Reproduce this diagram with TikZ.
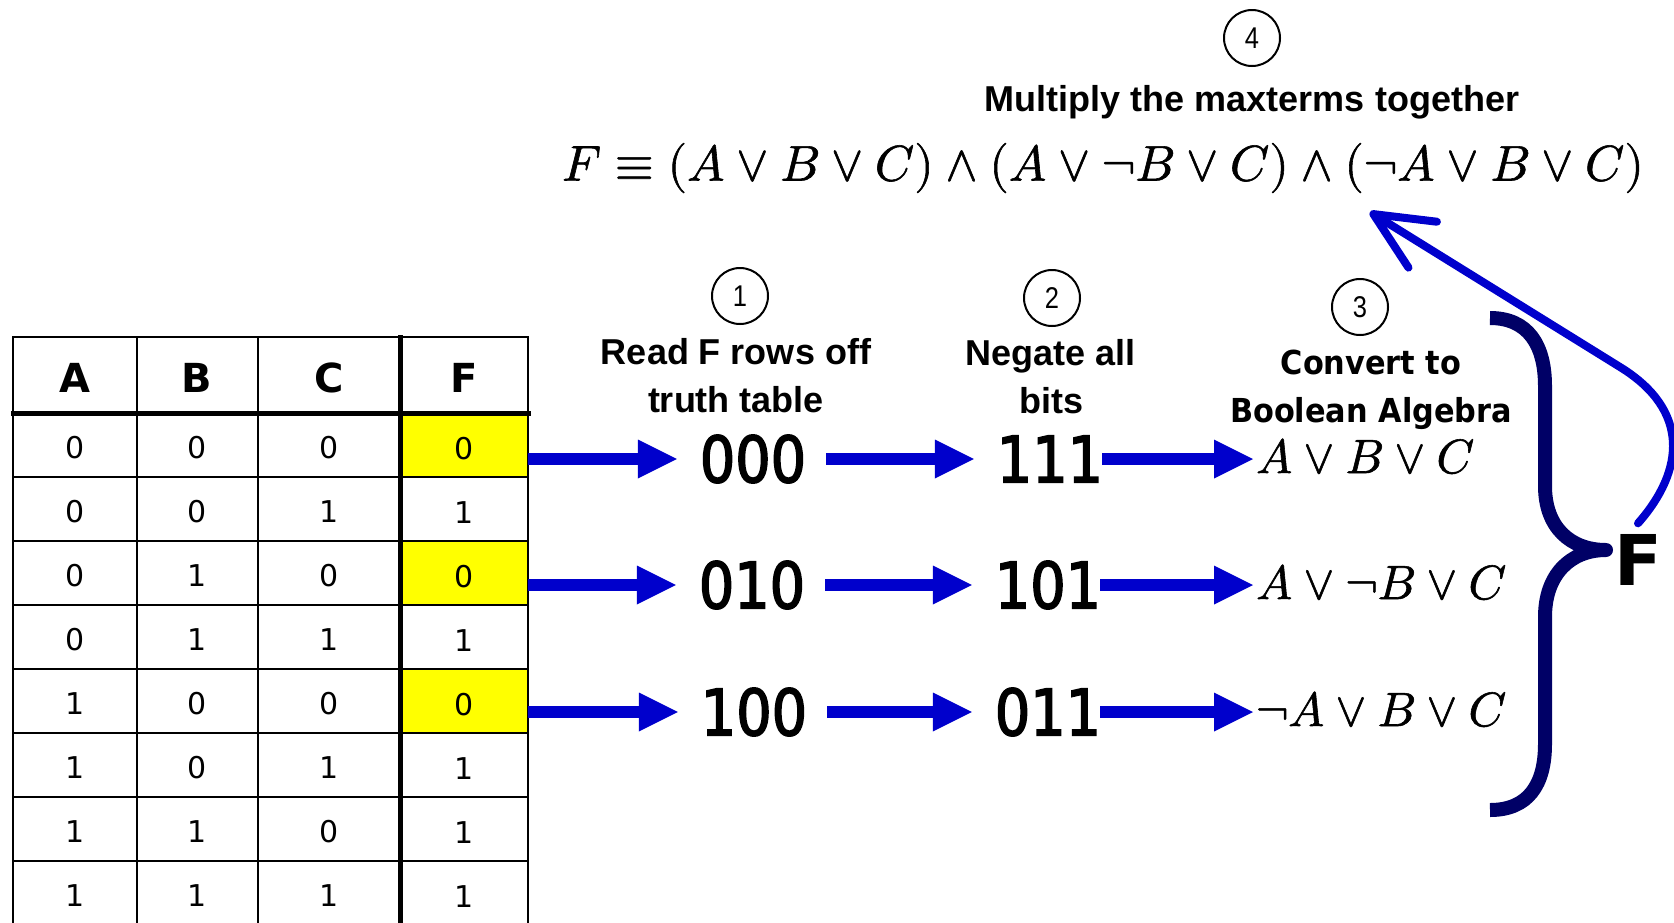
\documentclass[tikz,border=0pt]{standalone}
\usepackage{fontspec}
\usepackage{unicode-math}
\setmainfont{Liberation Sans}
\setmathfont{Latin Modern Math}[FakeBold=1.2]
\newfontfamily\tabfont{DejaVu Sans}
\newfontfamily\bitsfont{DejaVu Sans}[FakeStretch=0.87,FakeBold=2.4]
\newfontfamily\convfont{DejaVu Sans}[FakeStretch=0.92]
\newfontfamily\circfont{Liberation Sans}[FakeStretch=0.85]
\usetikzlibrary{arrows.meta}
\definecolor{flowblue}{RGB}{0,0,204}
\definecolor{bracenavy}{RGB}{0,0,102}
\definecolor{hilite}{RGB}{255,255,0}

\begin{document}
\begin{tikzpicture}[x=1pt, y=-1pt,
  thingrid/.style={line width=2.5pt, line cap=rect},
  thickgrid/.style={line width=5pt, line cap=rect},
  cellnum/.style={font=\tabfont\fontsize{30}{30}\selectfont, inner sep=0pt},
  headtxt/.style={font=\tabfont\bfseries\fontsize{40}{40}\selectfont, inner sep=0pt},
  fcell/.style={cellnum, minimum width=128pt, minimum height=64pt, text height=28pt, text depth=0pt},
  bitsnode/.style={font=\bitsfont\fontsize{64}{64}\selectfont, inner sep=0pt, minimum width=110pt},
  term/.style={font=\fontsize{48}{48}\selectfont, inner sep=0pt, anchor=base west},
  flow/.style={draw=flowblue, line width=12pt, -{Triangle[length=39pt, width=39pt, line width=0pt]}},
  stepnum/.style={circle, draw, line width=2pt, minimum size=56pt, inner sep=0pt, font=\circfont\fontsize{30}{30}\selectfont},
  steplabel/.style={align=center, inner sep=0pt, font=\bfseries\fontsize{36}{48}\selectfont},
  convlabel/.style={align=center, inner sep=0pt, font=\convfont\bfseries\fontsize{33}{48}\selectfont},
  maxarrow/.style={draw=flowblue, line width=8pt, line cap=round, line join=round,
    -{Straight Barb[length=58pt, width=54pt, round]}},
  bracepath/.style={draw=bracenavy, line width=14pt, line join=round}
]
\useasboundingbox (0,0) rectangle (1674,922);

% ---- truth table: header and cells ----
\node[headtxt] (hA) at (75,378) {A};
\node[headtxt] (hB) at (197,378) {B};
\node[headtxt] (hC) at (329,378) {C};
\node[headtxt] (hF) at (464,378) {F};
\foreach \r/\a/\b/\c/\f/\bg in {1/0/0/0/0/hilite, 2/0/0/1/1/white, 3/0/1/0/0/hilite,
    4/0/1/1/1/white, 5/1/0/0/0/hilite, 6/1/0/1/1/white, 7/1/1/0/1/white, 8/1/1/1/1/white} {
  \node[cellnum] (a\r) at (75,{384+64*\r}) {\a};
  \node[cellnum] (b\r) at (197,{384+64*\r}) {\b};
  \node[cellnum] (c\r) at (329,{384+64*\r}) {\c};
  \node[fcell, fill=\bg] (f\r) at (464,{381+64*\r}) {\f};
}
% grid lines
\foreach \x in {13,137,258,528} \draw[thingrid] (\x,337) -- (\x,925);
\draw[thickgrid] (400,337) -- (400,925);
\draw[thingrid] (13,337) -- (528,337);
\draw[thickgrid] (13,413) -- (528,413);
\foreach \y in {477,541,605,669,733,797,861} \draw[thingrid] (13,\y) -- (528,\y);

% ---- step headings ----
\node[stepnum] (s1) at (740,296) {1};
\node[steplabel] (l1) at (736,376) {Read F rows off\\truth table};
\node[stepnum] (s2) at (1052,298) {2};
\node[steplabel] (l2) at (1051,377) {Negate all\\bits};
\node[stepnum] (s3) at (1360,307) {3};
\node[convlabel] (l3) at (1371,390) {Convert to\\Boolean Algebra};
\node[stepnum] (s4) at (1252,38) {4};
\node[steplabel] (l4) at (1252,102) {Multiply the maxterms together};
\node[inner sep=0pt, font=\fontsize{50}{50}\selectfont] (eq) at (1103,168)
  {$F \equiv (A \lor B \lor C) \land (A \lor \neg B \lor C) \land (\neg A \lor B \lor C)$};

% ---- rows read off the table ----
\node[bitsnode] (p1) at (753,459) {000};
\node[bitsnode] (q1) at (1050,459) {111};
\node[term] (t1) at (1256,473) {$A \lor B \lor C$};
\node[bitsnode] (p2) at (752,585) {010};
\node[bitsnode] (q2) at (1048,585) {101};
\node[term] (t2) at (1256,599) {$A \lor \neg B \lor C$};
\node[bitsnode] (p3) at (754,712) {100};
\node[bitsnode] (q3) at (1048,712) {011};
\node[term] (t3) at (1256,726) {$\neg A \lor B \lor C$};

\foreach \i/\k in {1/1,2/3,3/5} {
  \draw[flow] (f\k.east |- p\i) -- ([xshift=-21pt]p\i.west);
  \draw[flow] ([xshift=18pt]p\i.east) -- ([xshift=-21pt]q\i.west);
  \draw[flow] ([xshift=-3pt]q\i.east) -- ([xshift=-3pt]t\i.west |- q\i);
}

% ---- brace and result ----
\node[inner sep=0pt, font=\tabfont\bfseries\fontsize{70}{70}\selectfont] (Fout) at (1638,560) {F};
\draw[bracepath] (1490,318) .. controls (1528,318) and (1545,345) .. (1545,386)
  -- (1545,486) .. controls (1545,527) and (1570,550) .. (1606,550)
  .. controls (1570,550) and (1545,575) .. (1545,617)
  -- (1545,744) .. controls (1545,785) and (1528,810) .. (1490,810);

\coordinate (tip4) at (1370,212);
\draw[maxarrow] ([yshift=11pt]Fout.north) .. controls (1685,470) and (1690,410) .. (1620,367) -- (tip4);
\end{tikzpicture}
\end{document}
